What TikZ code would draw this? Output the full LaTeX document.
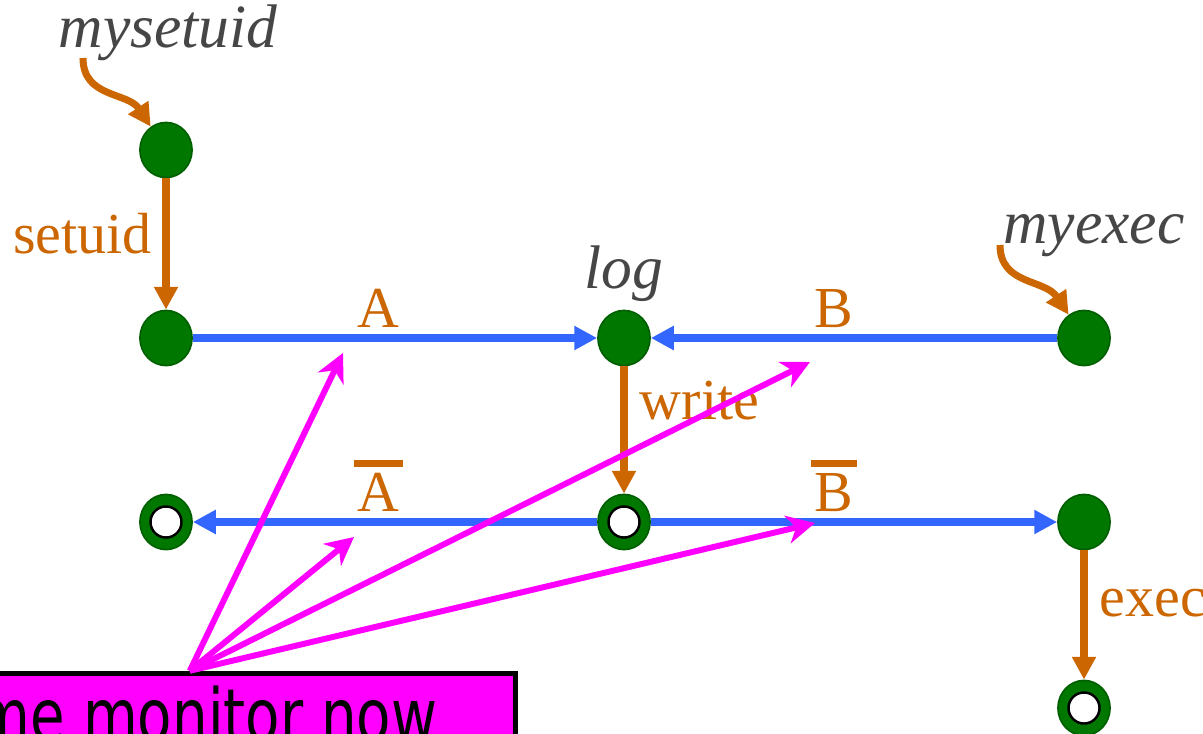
\documentclass[tikz,border=0pt]{standalone}
\usepackage{fontspec}
\setmainfont{Liberation Serif}
\newfontfamily\monfont{DejaVu Sans}
\usepackage{xcolor}
\usepackage{graphicx}
\usetikzlibrary{arrows.meta,positioning,shapes.geometric}
\definecolor{callorange}{RGB}{204,102,0}
\definecolor{flowblue}{RGB}{51,102,255}
\definecolor{stategreen}{RGB}{0,120,0}
\definecolor{namegray}{RGB}{70,70,70}
\definecolor{watchpink}{RGB}{255,0,255}
\newcommand\negated[1]{\vbox{\hrule height 2pt\kern 1.8pt\hbox{\kern1pt#1\kern1pt}}}

\begin{document}
\begin{tikzpicture}[x=0.01cm,y=-0.01cm,>=Latex,
 fullst/.style={ellipse,fill=stategreen,draw=stategreen!80!black,line width=0.5pt,minimum width=0.52cm,minimum height=0.55cm,inner sep=0pt},
 openst/.style={fullst,path picture={\draw[black,fill=white,line width=0.7pt] (path picture bounding box.center) circle (0.155cm);}},
 callarrow/.style={-{Triangle[length=6.5pt,width=6.5pt]},line width=2pt,draw=callorange},
 flowarrow/.style={-{Triangle[length=6.5pt,width=6.5pt]},line width=2.1pt,draw=flowblue},
 watcharrow/.style={-{Stealth[length=8pt,width=8pt,inset=2.5pt]},line width=1.7pt,draw=watchpink},
 lbl/.style={text=callorange,font=\fontsize{16.5}{19}\selectfont,inner sep=2pt},
 fname/.style={text=namegray,font=\fontsize{17.5}{20}\selectfont\itshape,inner sep=2pt},
 monbox/.style={draw=black,fill=watchpink,line width=1.5pt,font=\monfont\fontsize{16}{19}\selectfont,inner xsep=0.78cm,inner ysep=0.12cm}]
\useasboundingbox (0,0) rectangle (1203,733);
\clip (0,0) rectangle (1203,733);
% states
\node[fullst] (su0) at (166,150) {};
\node[fullst] (su1) at (166,338) {};
\node[fullst] (log) at (624,338) {};
\node[fullst] (ex0) at (1084,338) {};
\node[openst] (abar) at (166,522) {};
\node[openst] (logw) at (624,522) {};
\node[fullst] (bbar) at (1084,522) {};
\node[openst] (ex1) at (1084,708) {};
% function names
\node[fname,anchor=base] (nsetuid) at (168,47) {mysetuid};
\node[fname,anchor=base] (nexec) at (1094,243) {myexec};
\node[fname,above=0pt of log] (nlog) {log};
\coordinate (suin) at (83,58);
\coordinate (exin) at (1000,245);
\draw[callarrow] (suin) .. controls (83,98) and (128,92) .. (su0);
\draw[callarrow] (exin) .. controls (1000,285) and (1045,279) .. (ex0);
% transitions
\draw[callarrow] (su0) -- node[lbl,left=1pt,pos=0.42] (lsetuid) {setuid} (su1);
\draw[flowarrow] (su1) -- node[lbl,above,pos=0.46] (la) {A} (log);
\draw[flowarrow] (ex0) -- node[lbl,above,pos=0.55] (lb) {B} (log);
\draw[callarrow] (log) -- node[lbl,right=1.5pt,pos=0.27] (lwrite) {write} (logw);
\draw[flowarrow] (logw) -- node[lbl,above,pos=0.54] (lna) {\negated{A}} (abar);
\draw[flowarrow] (logw) -- node[lbl,above,pos=0.45] (lnb) {\negated{B}} (bbar);
\draw[callarrow] (bbar) -- node[lbl,right=1.5pt,pos=0.41] (lexec) {exec} (ex1);
% monitor
\node[monbox,anchor=base east] (monitor) at (518,741) {\scalebox{1}[1.3]{me monitor now}};
\coordinate (montip) at ([xshift=-3.28cm]monitor.north east);
\coordinate (wa) at (343,353);
\coordinate (wb) at (810,362);
\coordinate (wna) at (354,537);
\coordinate (wnb) at (815,523);
\foreach \t in {wa,wb,wna,wnb}
  \draw[watcharrow] (montip) -- (\t);
\end{tikzpicture}
\end{document}
